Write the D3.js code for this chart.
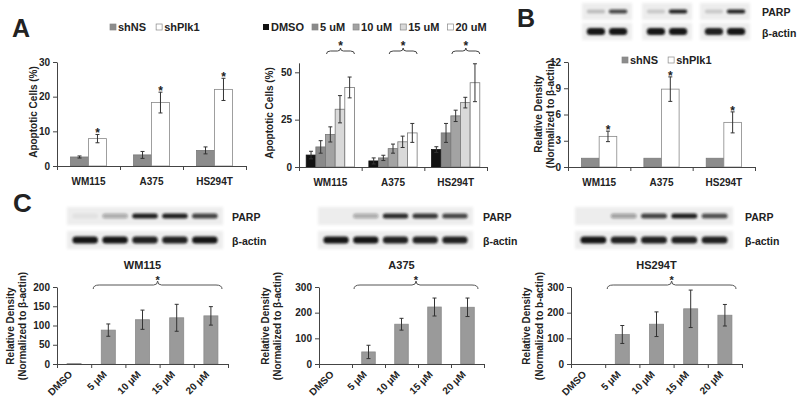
<!DOCTYPE html>
<html><head><meta charset="utf-8">
<script src="https://cdn.jsdelivr.net/npm/d3@7"></script>
<style>
body{margin:0;background:#fff}
text{font-family:"Liberation Sans",Arial,sans-serif;font-weight:bold;fill:#222}
</style></head><body>
<svg id="c" width="800" height="407"></svg>
<script>
// ---------- DATA ----------
const cellLines = ["WM115", "A375", "HS294T"];
const knockLegend = ["shNS", "shPlk1"];
const aShNS = [2.6, 3.2, 4.5];
const aShNSErr = [0.3, 1.0, 1.0];
const aShPlk1 = [7.9, 18.3, 22.1];
const aShPlk1Err = [1.2, 3.0, 3.2];
const aTicks = [0, 10, 20, 30];

const doseLegend = ["DMSO", "5 uM", "10 uM", "15 uM", "20 uM"];
const doseWM115 = [6.3, 10.6, 17.2, 30.5, 42.0];
const doseWM115Err = [2.0, 3.3, 4.0, 7.2, 5.5];
const doseA375 = [3.2, 4.8, 9.7, 13.3, 18.0];
const doseA375Err = [1.6, 1.4, 2.4, 3.0, 5.0];
const doseHS294T = [9.2, 18.0, 27.0, 34.0, 44.5];
const doseHS294TErr = [1.5, 5.0, 3.0, 2.8, 10.0];
const doseTicks = [0, 25, 50];

const bShNS = [1, 1, 1];
const bShPlk1 = [3.5, 8.9, 5.1];
const bShPlk1Err = [0.6, 1.4, 1.2];
const bTicks = [0, 3, 6, 9, 12];

const cDoses = ["DMSO", "5 μM", "10 μM", "15 μM", "20 μM"];
const cWM115 = [1, 88, 115, 120, 125];
const cWM115Err = [0, 16, 25, 35, 24];
const cA375 = [0, 47, 155, 222, 221];
const cA375Err = [0, 26, 23, 35, 36];
const cHS294T = [0, 115, 155, 215, 190];
const cHS294TErr = [0, 35, 48, 73, 42];
const cTicksWM115 = [0, 50, 100, 150, 200];
const cTicks300 = [0, 100, 200, 300];

// blot band intensities (0..1)
const bParp = [[0.2, 0.8], [0.15, 0.95], [0.15, 0.95]];
const bActin = [[1, 1], [1, 1], [0.95, 1]];
const cParpWM115 = [0.05, 0.3, 0.95, 0.95, 0.8];
const cActinWM115 = [1, 1, 0.95, 0.95, 1];
const cParpA375 = [0, 0.3, 0.9, 0.85, 0.75];
const cActinA375 = [1, 1, 0.95, 0.95, 0.95];
const cParpHS294T = [0, 0.35, 0.8, 0.95, 0.7];
const cActinHS294T = [1, 0.95, 0.95, 0.95, 0.95];

// ---------- DRAW ----------
const svg = d3.select("#c");
svg.append("rect").attr("width", 800).attr("height", 407).attr("fill", "#fff");
const defs = svg.append("defs");
defs.append("filter").attr("id", "blur").attr("x", "-30%").attr("y", "-100%").attr("width", "160%").attr("height", "300%")
  .append("feGaussianBlur").attr("stdDeviation", 1.2);
defs.append("filter").attr("id", "soft").attr("x", "-10%").attr("y", "-30%").attr("width", "120%").attr("height", "160%")
  .append("feGaussianBlur").attr("stdDeviation", 1.5);

const AX = "#444";

function styleAxis(s) {
  s.select(".domain").attr("stroke", AX);
  s.selectAll(".tick line").attr("stroke", AX);
  s.selectAll("text").attr("font-size", 10).attr("fill", "#222");
}

function panel(o) {
  const g = svg.append("g");
  const x = d3.scaleBand().domain(o.cats).range([o.x0, o.x1]).padding(0);
  const y = d3.scaleLinear().domain(o.domain).range([o.yBase, o.yTop]);
  const inner = d3.scaleBand().domain(d3.range(o.series.length)).range([0, x.bandwidth() * o.ratio]).padding(0);
  const off = x.bandwidth() * (1 - o.ratio) / 2;
  const bx = (si, i) => x(o.cats[i]) + off + inner(si);
  o.series.forEach((s, si) => {
    g.selectAll(null).data(s.vals).join("rect")
      .attr("x", (d, i) => bx(si, i)).attr("width", inner.bandwidth())
      .attr("y", d => y(d)).attr("height", d => o.yBase - y(d))
      .attr("fill", s.fill).attr("stroke", s.stroke || "none").attr("stroke-width", 0.8);
  });
  o.series.forEach((s, si) => {
    if (!s.errs) return;
    s.vals.forEach((v, i) => {
      const e = s.errs[i];
      if (!e) return;
      const cx = bx(si, i) + inner.bandwidth() / 2;
      const eg = g.append("g").attr("stroke", "#333").attr("stroke-width", 1);
      eg.append("line").attr("x1", cx).attr("x2", cx).attr("y1", y(v - e)).attr("y2", y(v + e));
      eg.append("line").attr("x1", cx - 2).attr("x2", cx + 2).attr("y1", y(v - e)).attr("y2", y(v - e));
      eg.append("line").attr("x1", cx - 2).attr("x2", cx + 2).attr("y1", y(v + e)).attr("y2", y(v + e));
      if (s.star) {
        g.append("text").attr("x", cx).attr("y", y(v + e) + 3).attr("text-anchor", "middle")
          .attr("font-size", 12).text("*");
      }
    });
  });
  // y axis
  g.append("g").attr("transform", `translate(${o.x0},0)`)
    .call(d3.axisLeft(y).tickValues(o.ticks).tickSize(4).tickSizeOuter(0).tickPadding(3))
    .call(styleAxis);
  // x axis with category separators
  const xs = d3.scaleLinear().domain([0, o.cats.length]).range([o.x0, o.x1]);
  g.append("g").attr("transform", `translate(0,${o.yBase})`)
    .call(d3.axisBottom(xs).tickValues(d3.range(0, o.cats.length + 1)).tickSize(4).tickSizeOuter(0).tickFormat(""))
    .call(styleAxis);
  // category labels
  if (o.rotate) {
    g.selectAll(null).data(o.cats).join("text")
      .attr("transform", d => `translate(${x(d) + x.bandwidth() / 2 - 1},${o.yBase + 11}) rotate(-45)`)
      .attr("text-anchor", "end").attr("font-size", 10).text(d => d);
  } else {
    g.selectAll(null).data(o.cats).join("text")
      .attr("x", d => x(d) + x.bandwidth() / 2).attr("y", o.yBase + 19)
      .attr("text-anchor", "middle").attr("font-size", 10).text(d => d);
  }
  // y title
  o.ytitle.forEach((t, k) => {
    g.append("text").attr("transform", `translate(${t.x},${o.ymid}) rotate(-90)`)
      .attr("text-anchor", "middle").attr("font-size", 10).text(t.text);
  });
  return { x, y, inner, off, bx, g };
}

function legend(items, x, y, fills, gap) {
  let cx = x;
  items.forEach((t, i) => {
    svg.append("rect").attr("x", cx).attr("y", y - 3).attr("width", 6).attr("height", 6)
      .attr("fill", fills[i]).attr("stroke", fills[i] === "#111" ? "none" : "#888").attr("stroke-width", 0.7);
    const tx = svg.append("text").attr("x", cx + 8).attr("y", y + 4).attr("font-size", 11).text(t);
    cx += 8 + tx.node().getComputedTextLength() + gap;
  });
}

function blot(x, y, w, h, vals, bandH) {
  const g = svg.append("g");
  g.append("rect").attr("x", x).attr("y", y).attr("width", w).attr("height", h)
    .attr("fill", "#ededed").attr("filter", "url(#soft)");
  const lane = d3.scaleBand().domain(d3.range(vals.length)).range([x + 2, x + w - 2]).padding(0.08);
  g.selectAll(null).data(vals).join("rect")
    .attr("x", (d, i) => lane(i) + 1).attr("width", lane.bandwidth() - 2)
    .attr("y", y + h / 2 - bandH / 2).attr("height", bandH).attr("rx", bandH / 2)
    .attr("fill", "#151515").attr("fill-opacity", d => d).attr("filter", "url(#blur)");
}

// Panel letters
svg.append("text").attr("x", 12).attr("y", 37).attr("font-size", 25).text("A");
svg.append("text").attr("x", 517).attr("y", 27).attr("font-size", 25).text("B");
svg.append("text").attr("x", 13).attr("y", 212).attr("font-size", 26).text("C");

// ---- A left ----
legend(knockLegend, 110, 27, ["#8c8c8c", "#fff"], 10);
panel({
  x0: 57, x1: 246, yBase: 166, yTop: 62, domain: [0, 30], ticks: aTicks, cats: cellLines, ratio: 0.57,
  series: [
    { vals: aShNS, errs: aShNSErr, fill: "#8c8c8c", stroke: "#7a7a7a" },
    { vals: aShPlk1, errs: aShPlk1Err, fill: "#fff", stroke: "#888", star: true }
  ],
  ymid: 112, ytitle: [{ x: 37, text: "Apoptotic Cells (%)" }]
});

// ---- A middle ----
const doseFills = ["#111", "#8a8a8a", "#a3a3a3", "#d9d9d9", "#fff"];
legend(doseLegend, 263, 27, doseFills, 8);
const doseVals = [0, 1, 2, 3, 4].map(k => [doseWM115[k], doseA375[k], doseHS294T[k]]);
const doseErrs = [0, 1, 2, 3, 4].map(k => [doseWM115Err[k], doseA375Err[k], doseHS294TErr[k]]);
const pm = panel({
  x0: 299, x1: 487, yBase: 167, yTop: 167 - 55 * (94.7 / 50), domain: [0, 55], ticks: doseTicks, cats: cellLines, ratio: 0.77,
  series: doseVals.map((v, k) => ({ vals: v, errs: doseErrs[k], fill: doseFills[k], stroke: k === 0 ? "#111" : "#777" })),
  ymid: 113, ytitle: [{ x: 273, text: "Apoptotic Cells (%)" }]
});
cellLines.forEach((c, i) => {
  const xa = pm.bx(2, i) + 1, xb = pm.bx(4, i) + pm.inner.bandwidth();
  const xm = (xa + xb) / 2, yb = 51;
  pm.g.append("path")
    .attr("d", `M${xa},${yb + 3} Q${xa},${yb} ${xa + 4},${yb} L${xm - 3},${yb} Q${xm},${yb} ${xm},${yb - 3} Q${xm},${yb} ${xm + 3},${yb} L${xb - 4},${yb} Q${xb},${yb} ${xb},${yb + 3}`)
    .attr("fill", "none").attr("stroke", "#444").attr("stroke-width", 1);
  pm.g.append("text").attr("x", xm).attr("y", yb - 1).attr("text-anchor", "middle").attr("font-size", 12).text("*");
});

// ---- B ----
const bBoxes = [582, 642, 700];
bBoxes.forEach((bx, i) => {
  blot(bx, 3, 50, 17, bParp[i], 4);
  blot(bx, 23, 50, 17, bActin[i], 7);
});
svg.append("text").attr("x", 762).attr("y", 16).attr("font-size", 10.5).text("PARP");
svg.append("text").attr("x", 762).attr("y", 37).attr("font-size", 10.5).text("β-actin");
legend(knockLegend, 622, 60, ["#8c8c8c", "#fff"], 10);
panel({
  x0: 568, x1: 755, yBase: 167, yTop: 62, domain: [0, 12], ticks: bTicks, cats: cellLines, ratio: 0.565,
  series: [
    { vals: bShNS, fill: "#8c8c8c", stroke: "#7a7a7a" },
    { vals: bShPlk1, errs: bShPlk1Err, fill: "#fff", stroke: "#888", star: true }
  ],
  ymid: 114, ytitle: [{ x: 542, text: "Relative Density" }, { x: 554, text: "(Normalized to β-actin)" }]
});

// ---- C ----
const cPanels = [
  { name: "WM115", vals: cWM115, errs: cWM115Err, ticks: cTicksWM115, max: 200, x0: 57, x1: 228,
    parp: cParpWM115, actin: cActinWM115, bx: 67, bw: 156, lx: 232,
    yt: [{ x: 14, text: "Relative Density" }, { x: 26, text: "(Normalized to β-actin)" }] },
  { name: "A375", vals: cA375, errs: cA375Err, ticks: cTicks300, max: 300, x0: 319, x1: 484,
    parp: cParpA375, actin: cActinA375, bx: 318, bw: 155, lx: 483,
    yt: [{ x: 269, text: "Relative Density" }, { x: 281, text: "(Normalized to β-actin)" }] },
  { name: "HS294T", vals: cHS294T, errs: cHS294TErr, ticks: cTicks300, max: 300, x0: 571, x1: 742,
    parp: cParpHS294T, actin: cActinHS294T, bx: 575, bw: 158, lx: 745,
    yt: [{ x: 530, text: "Relative Density" }, { x: 543, text: "(Normalized to b-actin)" }] }
];
cPanels.forEach(p => {
  blot(p.bx, 207, p.bw, 18, p.parp, 5);
  blot(p.bx, 231, p.bw, 18, p.actin, 7);
  svg.append("text").attr("x", p.lx).attr("y", 221).attr("font-size", 10.5).text("PARP");
  svg.append("text").attr("x", p.lx).attr("y", 245).attr("font-size", 10.5).text("β-actin");
  const r = panel({
    x0: p.x0, x1: p.x1, yBase: 364, yTop: 287, domain: [0, p.max], ticks: p.ticks, cats: cDoses, ratio: 0.41,
    series: [{ vals: p.vals, errs: p.errs, fill: "#9a9a9a", stroke: "#8a8a8a" }],
    rotate: true, ymid: 326, ytitle: p.yt
  });
  r.g.append("text").attr("x", (p.x0 + p.x1) / 2).attr("y", 269).attr("text-anchor", "middle")
    .attr("font-size", 11).text(p.name);
  const xa = r.x(cDoses[1]) + 2, xb = p.x1 - 6, xm = (xa + xb) / 2, yb = 285;
  r.g.append("path")
    .attr("d", `M${xa},${yb + 4} Q${xa},${yb} ${xa + 6},${yb} L${xm - 4},${yb} Q${xm},${yb} ${xm},${yb - 4} Q${xm},${yb} ${xm + 4},${yb} L${xb - 6},${yb} Q${xb},${yb} ${xb},${yb + 4}`)
    .attr("fill", "none").attr("stroke", "#555").attr("stroke-width", 1);
  r.g.append("text").attr("x", xm).attr("y", yb - 1).attr("text-anchor", "middle").attr("font-size", 11).text("*");
});
</script>
</body></html>
